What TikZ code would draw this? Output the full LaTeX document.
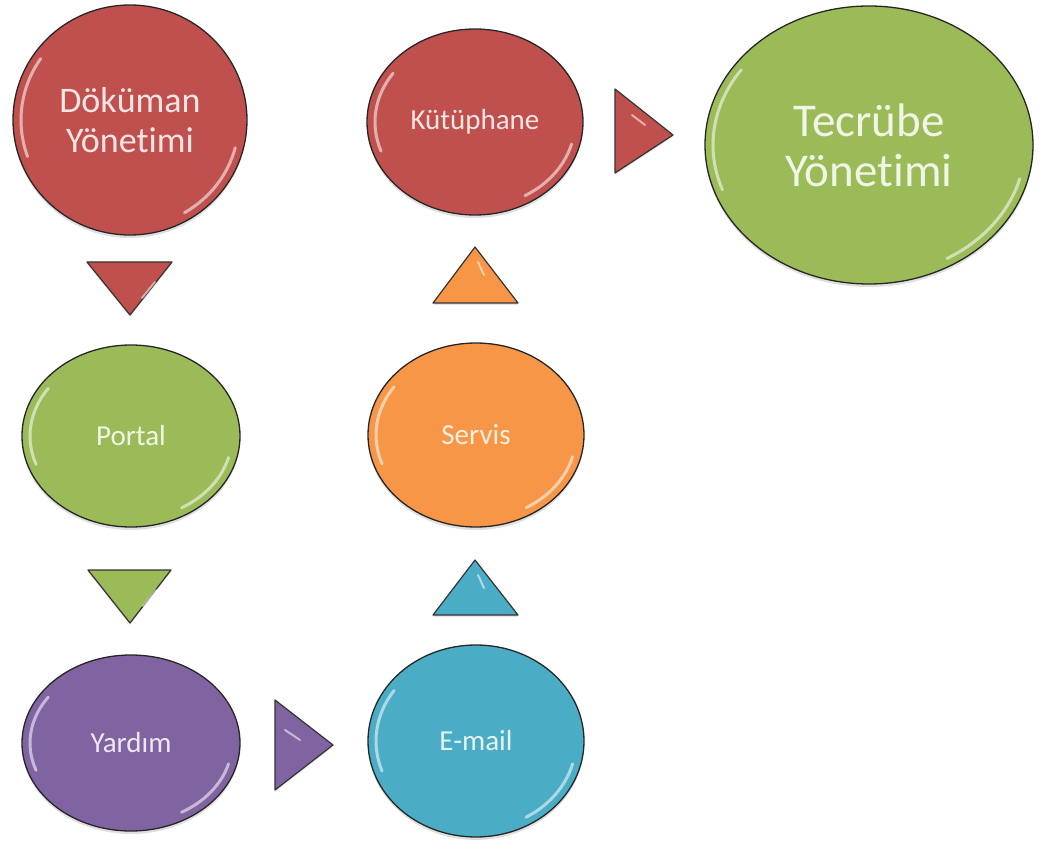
\documentclass[tikz,border=0pt]{standalone}
\usepackage{fontspec}
\setmainfont{Carlito}[Ligatures=CommonOff]
\usetikzlibrary{shapes.geometric,shadows,calc}
\definecolor{cRed}{HTML}{C0504D}
\definecolor{cGreen}{HTML}{9BBB59}
\definecolor{cPurple}{HTML}{8064A2}
\definecolor{cAqua}{HTML}{4BACC6}
\definecolor{cOrange}{HTML}{F79646}
\tikzset{
  bubble/.style={ellipse, draw=black!85, line width=1.3pt, inner sep=0pt, align=center,
    drop shadow={shadow xshift=0pt, shadow yshift=-3pt, opacity=.25}},
  lbl/.style={font=\fontsize{29}{33}\selectfont},
  bigA/.style={font=\fontsize{36}{40}\selectfont},
  bigB/.style={font=\fontsize{47}{50}\selectfont},
  tri/.style={draw=black!80, line width=1.2pt, line join=round,
    drop shadow={shadow xshift=0pt, shadow yshift=-2pt, opacity=.2}},
  shine/.style={white, opacity=.55, line width=3pt, line cap=round},
}
\newcommand\glossy[3]{%
  \draw[shine] ($(#1.center)+(160:{#2-8} and {#3-8})$) arc[start angle=160, end angle=215, x radius=#2-8, y radius=#3-8];
  \draw[shine] ($(#1.center)+(15:{#2-8} and {#3-8})$) arc[start angle=15, end angle=60, x radius=#2-8, y radius=#3-8];
}
\begin{document}
\begin{tikzpicture}[x=1pt, y=-1pt]
\useasboundingbox (0,0) rectangle (1045,850);

% main nodes
\node[bubble, fill=cRed, text=white!85!cRed, bigA, minimum width=234pt, minimum height=230pt] (dok) at (130,120) {Döküman\\Yönetimi};
\node[bubble, fill=cGreen, text=white!85!cGreen, lbl, minimum width=218pt, minimum height=182pt] (portal) at (131,436) {Portal};
\node[bubble, fill=cPurple, text=white!85!cPurple, lbl, minimum width=218pt, minimum height=176pt] (yardim) at (131,743) {Yardım};
\node[bubble, fill=cAqua, text=white!85!cAqua, lbl, minimum width=216pt, minimum height=192pt] (email) at (476,741) {E-mail};
\node[bubble, fill=cOrange, text=white!85!cOrange, lbl, minimum width=216pt, minimum height=184pt] (servis) at (476,435) {Servis};
\node[bubble, fill=cRed, text=white!85!cRed, lbl, minimum width=216pt, minimum height=186pt] (kutup) at (475,122) {Kütüphane};
\node[bubble, fill=cGreen, text=white!85!cGreen, bigB, minimum width=328pt, minimum height=278pt] (tecrube) at (869,145) {Tecrübe\\Yönetimi};

\glossy{dok}{117}{115}
\glossy{portal}{109}{91}
\glossy{yardim}{109}{88}
\glossy{email}{108}{96}
\glossy{servis}{108}{92}
\glossy{kutup}{108}{93}
\glossy{tecrube}{164}{139}

% arrow triangles
\draw[tri, fill=cRed] (87,262) -- (172,262) -- (130,315) -- cycle;
\draw[tri, fill=cGreen] (88,570) -- (171,570) -- (130,623) -- cycle;
\draw[tri, fill=cPurple] (275,700) -- (333,745) -- (275,790) -- cycle;
\draw[tri, fill=cAqua] (433,615) -- (518,615) -- (475,560) -- cycle;
\draw[tri, fill=cOrange] (433,303) -- (518,303) -- (475,247) -- cycle;
\draw[tri, fill=cRed] (615,89) -- (673,135) -- (615,173) -- cycle;

% small shines on triangles
\draw[shine, line width=2pt] (155,282) -- (142,298);
\draw[shine, line width=2pt] (156,590) -- (143,606);
\draw[shine, line width=2pt] (285,730) -- (300,740);
\draw[shine, line width=2pt] (478,575) -- (484,588);
\draw[shine, line width=2pt] (478,262) -- (484,275);
\draw[shine, line width=2pt] (632,115) -- (645,125);
\end{tikzpicture}
\end{document}
